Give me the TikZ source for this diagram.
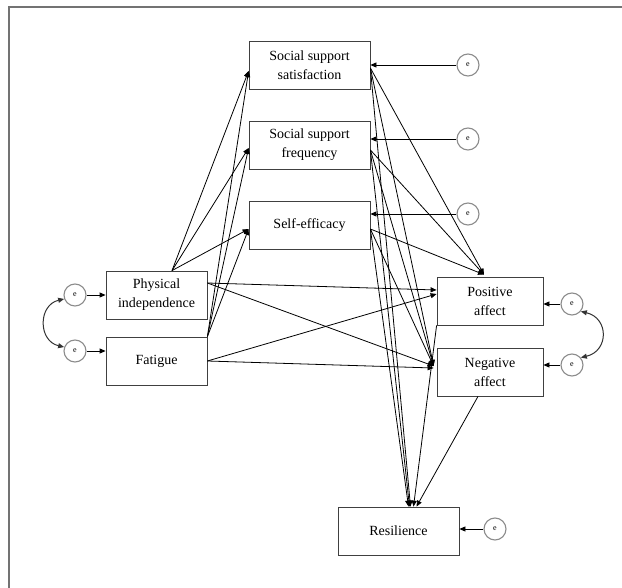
\documentclass[tikz,border=0pt]{standalone}
\usepackage{fontspec}
\setmainfont{Liberation Serif}
\usetikzlibrary{arrows.meta}
\begin{document}
\begin{tikzpicture}[x=1pt,y=-1pt,
  box/.style={draw=black!75, line width=0.8pt, fill=white, align=center, inner sep=0pt,
    font=\fontsize{14}{19}\selectfont},
  errc/.style={draw=black!45, line width=1.1pt, circle, minimum size=22pt, inner sep=0pt,
    font=\fontsize{8}{8}\selectfont},
  arr/.style={-{Triangle[length=6pt,width=5pt]}, line width=0.8pt},
  biarr/.style={{Triangle[length=6pt,width=5pt]}-{Triangle[length=6pt,width=5pt]}, line width=1pt, black!80}]
\useasboundingbox (0,0) rectangle (622,588);
\draw[black!55, line width=1.3pt] (9,588) -- (9,7) -- (622,7);

% boxes
\node[box, minimum width=121pt, minimum height=48pt] (sss) at (309.5,65) {Social support\\satisfaction};
\node[box, minimum width=121pt, minimum height=48pt] (ssf) at (309.5,145) {Social support\\frequency};
\node[box, minimum width=121pt, minimum height=48pt] (se) at (309.5,225) {Self-efficacy};
\node[box, minimum width=101pt, minimum height=48pt] (pi) at (156.5,295) {Physical\\independence};
\node[box, minimum width=101pt, minimum height=48pt] (fat) at (156.5,361) {Fatigue};
\node[box, minimum width=106pt, minimum height=48pt] (pa) at (490,301) {Positive\\affect};
\node[box, minimum width=106pt, minimum height=48pt] (na) at (490,372) {Negative\\affect};
\node[box, minimum width=121pt, minimum height=48pt] (res) at (398.5,531) {Resilience};

% error terms
\node[errc] (esss) at (468,65) {e};
\node[errc] (essf) at (468,139) {e};
\node[errc] (ese) at (468,214) {e};
\node[errc] (epi) at (75,295) {e};
\node[errc] (efat) at (75,351) {e};
\node[errc] (epa) at (572,304) {e};
\node[errc] (ena) at (572,365) {e};
\node[errc] (eres) at (495,529) {e};

\draw[arr] (esss) -- (esss -| sss.east);
\draw[arr] (essf) -- (essf -| ssf.east);
\draw[arr] (ese) -- (ese -| se.east);
\draw[arr] (epi) -- (epi -| pi.west);
\draw[arr] (efat) -- (efat -| fat.west);
\draw[arr] (epa) -- (epa -| pa.east);
\draw[arr] (ena) -- (ena -| na.east);
\draw[arr] (eres) -- (eres -| res.east);

\draw[biarr] (epi.200) .. controls (38,305) and (38,341) .. (efat.160);
\draw[biarr] (epa.320) .. controls (609,318) and (609,351) .. (ena.40);

% predictors -> mediators
\coordinate (pitop) at ([xshift=15.5pt]pi.north);
\coordinate (tsss) at ([yshift=-6pt]sss.west);
\coordinate (tssf) at ([yshift=-3pt]ssf.west);
\coordinate (tse) at ([yshift=-4pt]se.west);
\draw[arr] (pitop) -- (tsss);
\draw[arr] (pitop) -- (tssf);
\draw[arr] (pitop) -- (tse);
\draw[arr] (fat.north east) -- (tsss);
\draw[arr] (fat.north east) -- (tssf);
\draw[arr] (fat.north east) -- (tse);

% predictors -> affect
\coordinate (piright) at ([yshift=12pt]pi.east);
\coordinate (tna) at ([yshift=6pt,xshift=-3pt]na.west);
\draw[arr] (piright) -- ([yshift=11pt]pa.west);
\draw[arr] (piright) -- (tna);
\draw[arr] (fat.east) -- ([yshift=7pt]pa.west);
\draw[arr] (fat.east) -- ([yshift=4pt,xshift=-3pt]na.west);

% mediators -> outcomes
\coordinate (ssso) at ([yshift=-3pt]sss.east);
\coordinate (ssfo) at ([yshift=-5pt]ssf.east);
\coordinate (seo) at ([yshift=-4pt]se.east);
\coordinate (tpa) at ([xshift=-6pt,yshift=2pt]pa.north);
\draw[arr] (ssso) -- (tpa);
\draw[arr] (ssfo) -- (tpa);
\draw[arr] (seo) -- (tpa);
\draw[arr] (ssso) -- (tna);
\draw[arr] (ssfo) -- (tna);
\draw[arr] (seo) -- (tna);
\draw[arr] (ssso) -- ([xshift=12pt]res.north);
\draw[arr] (ssfo) -- ([xshift=11pt]res.north);
\draw[arr] (seo) -- ([xshift=10pt]res.north);
\draw[arr] (pa.south west) -- ([xshift=15pt]res.north);
\draw[arr] ([xshift=-12pt]na.south) -- ([xshift=18pt]res.north);
\end{tikzpicture}
\end{document}
